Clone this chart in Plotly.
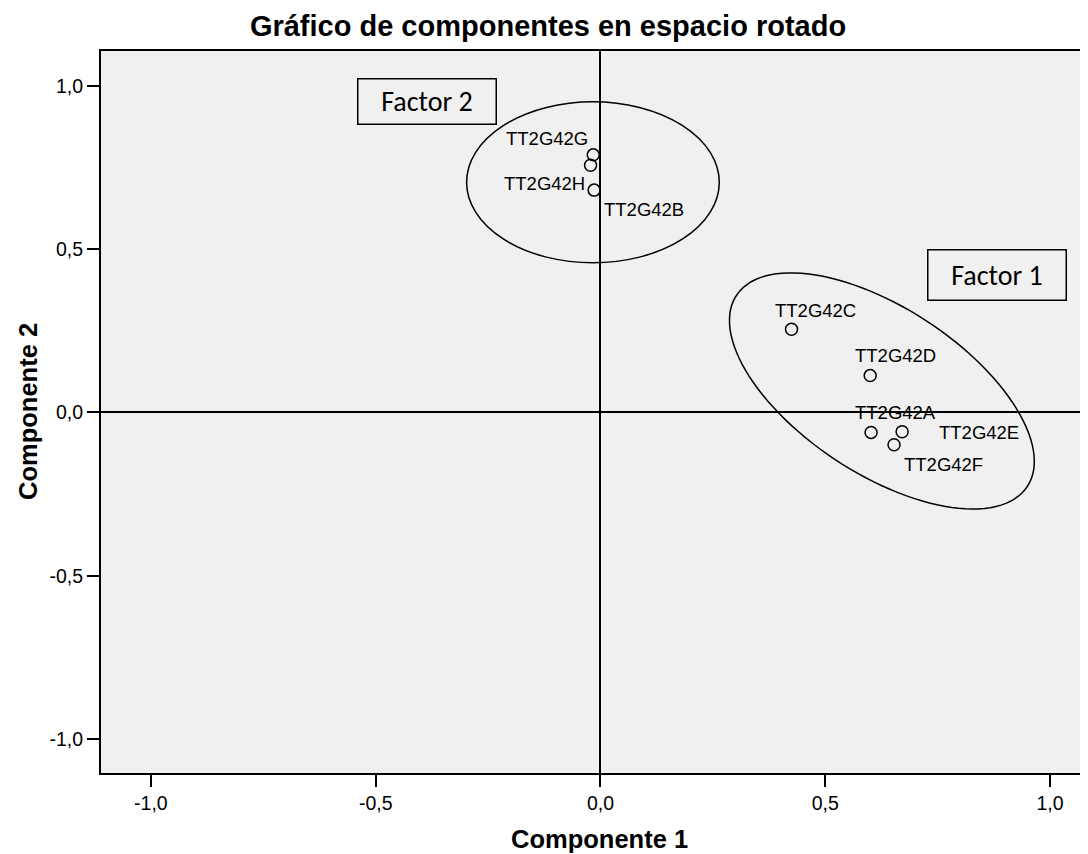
import numpy as np
import plotly.graph_objects as go

# component loadings in rotated space
variables = ['TT2G42G', 'TT2G42H', 'TT2G42B', 'TT2G42C', 'TT2G42D', 'TT2G42A', 'TT2G42E', 'TT2G42F']
comp1 = [-0.016, -0.022, -0.014, 0.425, 0.600, 0.602, 0.671, 0.653]
comp2 = [0.789, 0.757, 0.681, 0.255, 0.113, -0.061, -0.059, -0.099]

tick_vals = [-1.0, -0.5, 0.0, 0.5, 1.0]
tick_text = ['-1,0', '-0,5', '0,0', '0,5', '1,0']

# label placement (pixel offsets from the point, anchor side)
label_style = {
    'TT2G42G': (-3, -16, 'right'),
    'TT2G42H': (-4, 18, 'right'),
    'TT2G42B': (8, 19, 'left'),
    'TT2G42C': (-19, -19, 'left'),
    'TT2G42D': (-17, -20, 'left'),
    'TT2G42A': (-18, -20, 'left'),
    'TT2G42E': (35, 1, 'left'),
    'TT2G42F': (8, 20, 'left'),
}

X_RANGE = [-1.111, 1.0845]
Y_RANGE = [-1.104, 1.107]
PX_X = 449.5   # pixels per unit on x
PX_Y = 326.5   # pixels per unit on y

fig = go.Figure()
fig.add_trace(go.Scatter(
    x=comp1, y=comp2, mode='markers',
    marker=dict(symbol='circle-open', size=12, color='black', line=dict(width=1.5)),
    hoverinfo='text', text=variables, showlegend=False,
))

annotations = []
for name, x, y in zip(variables, comp1, comp2):
    dx, dy, side = label_style[name]
    annotations.append(dict(
        x=x, y=y, xref='x', yref='y', text=name, showarrow=False,
        xanchor=side, yanchor='middle', xshift=dx, yshift=-dy,
        font=dict(family='Arial, Liberation Sans', size=18.5, color='black'),
    ))

# "Factor" boxes
box_font = dict(family='Calibri, Carlito, Lato', size=28, color='black')
annotations.append(dict(x=-0.386, y=0.9525, xref='x', yref='y', text='Factor 2', showarrow=False,
                        width=137, height=44, borderpad=0, bordercolor='black', borderwidth=1.5,
                        font=box_font))
annotations.append(dict(x=0.882, y=0.421, xref='x', yref='y', text='Factor 1', showarrow=False,
                        width=137, height=49, borderpad=0, bordercolor='black', borderwidth=1.5,
                        font=box_font))

# axis titles
annotations.append(dict(x=0.5, y=0, xref='paper', yref='paper', text='<b>Componente 1</b>',
                        showarrow=False, xanchor='center', yanchor='middle', yshift=-66, xshift=5,
                        font=dict(family='Arial, Liberation Sans', size=25.5, color='black')))
annotations.append(dict(x=0, y=0.5, xref='paper', yref='paper', text='<b>Componente 2</b>',
                        showarrow=False, xanchor='center', yanchor='middle', xshift=-73, textangle=-90,
                        font=dict(family='Arial, Liberation Sans', size=25.5, color='black')))

shapes = []
# Factor 2 ellipse (axis aligned)
c2x, c2y, r2x, r2y = -0.0167, 0.705, 0.281, 0.2466
shapes.append(dict(type='circle', xref='x', yref='y', x0=c2x - r2x, x1=c2x + r2x,
                   y0=c2y - r2y, y1=c2y + r2y, line=dict(color='black', width=1.5)))

# Factor 1 ellipse (rotated) drawn as a path, sizes in pixels
c1x, c1y = 0.626, 0.066
a_px, b_px, theta = 174, 83, np.deg2rad(33.3)
t = np.linspace(0, 2 * np.pi, 120)
ex = c1x + (a_px * np.cos(theta) * np.cos(t) - b_px * np.sin(theta) * np.sin(t)) / PX_X
ey = c1y - (a_px * np.sin(theta) * np.cos(t) + b_px * np.cos(theta) * np.sin(t)) / PX_Y
path = 'M ' + ' L '.join(f'{xx:.4f},{yy:.4f}' for xx, yy in zip(ex, ey)) + ' Z'
shapes.append(dict(type='path', xref='x', yref='y', path=path, line=dict(color='black', width=1.5)))

# the page body adds an 8px margin, so the figure is 8px smaller and margins shifted
fig.update_layout(
    width=1080, height=846, autosize=False,
    margin=dict(l=93, r=0, t=43, b=81),
    paper_bgcolor='white', plot_bgcolor='#f0f0f0',
    title=dict(text='<b>Gráfico de componentes en espacio rotado</b>', x=0.5, xanchor='center',
               xref='container', yref='container', y=1 - 18 / 846, yanchor='middle',
               font=dict(family='Arial, Liberation Sans', size=29, color='black')),
    annotations=annotations, shapes=shapes,
    showlegend=False,
)
fig.update_xaxes(range=X_RANGE, tickvals=tick_vals, ticktext=tick_text, ticks='outside', ticklen=12,
                 tickwidth=2, tickcolor='black', showline=True, linecolor='black', linewidth=2,
                 mirror=True, showgrid=False, zeroline=True, zerolinecolor='black', zerolinewidth=2,
                 tickfont=dict(family='Arial, Liberation Sans', size=19.5, color='black'))
fig.update_yaxes(range=Y_RANGE, tickvals=tick_vals, ticktext=tick_text, ticks='outside', ticklen=12,
                 tickwidth=2, tickcolor='black', showline=True, linecolor='black', linewidth=2,
                 mirror=False, showgrid=False, zeroline=True, zerolinecolor='black', zerolinewidth=2,
                 tickfont=dict(family='Arial, Liberation Sans', size=19.5, color='black'))

fig.write_html('out.html')
